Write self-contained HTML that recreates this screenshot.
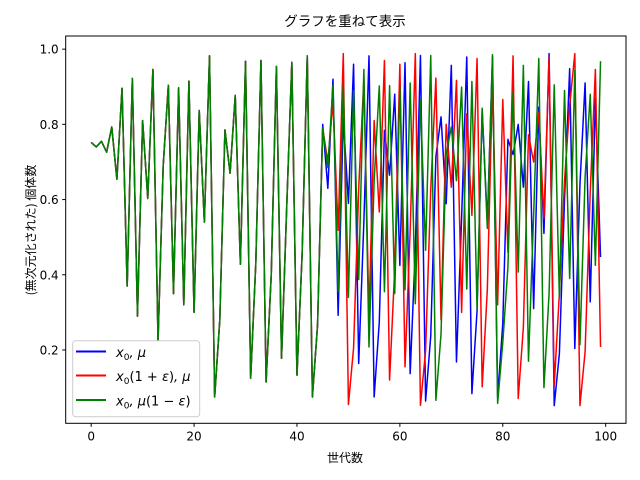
<!DOCTYPE html>
<html><head><meta charset="utf-8"><style>
body{margin:0;background:#fff;}
svg{display:block;font-family:"DejaVu Sans","Noto Sans CJK JP",sans-serif;}
</style></head><body>
<svg id="chart" width="640" height="480" viewBox="0 0 640 480">
<text x="345" y="26" font-size="13.5" text-anchor="middle" font-family="'Noto Sans CJK JP',sans-serif">グラフを重ねて表示</text>
<g id="plot"></g>
<text x="345" y="462" font-size="12" text-anchor="middle" font-family="'Noto Sans CJK JP',sans-serif">世代数</text>
<text transform="translate(35,230) rotate(-90)" font-size="12" text-anchor="middle" font-family="'Noto Sans CJK JP',sans-serif">(無次元化された) 個体数</text>
<g>
<rect x="72.7" y="340.7" width="127" height="76" rx="3" fill="#fff" fill-opacity="0.8" stroke="#ccc"/>
<line x1="76" y1="351.5" x2="106" y2="351.5" stroke="blue" stroke-width="2"/>
<text x="116" y="357" font-size="13" font-style="italic">x<tspan font-size="9" dy="3" font-style="normal">0</tspan><tspan dy="-3">, μ</tspan></text>
<line x1="76" y1="375.5" x2="106" y2="375.5" stroke="red" stroke-width="2"/>
<text x="116" y="381" font-size="13" font-style="italic">x<tspan font-size="9" dy="3" font-style="normal">0</tspan><tspan dy="-3"><tspan font-style="normal">(1 + </tspan>ε<tspan font-style="normal">)</tspan>, μ</tspan></text>
<line x1="76" y1="400" x2="106" y2="400" stroke="green" stroke-width="2"/>
<text x="116" y="405.5" font-size="13" font-style="italic">x<tspan font-size="9" dy="3" font-style="normal">0</tspan><tspan dy="-3">, μ<tspan font-style="normal">(1 − </tspan>ε<tspan font-style="normal">)</tspan></tspan></text>
</g>
</svg>
<script>
const common = [0.752,0.74,0.755,0.726,0.793,0.654,0.896,0.37,0.922,0.29,0.81,0.603,0.946,0.225,0.69,0.904,0.35,0.897,0.32,0.915,0.30,0.837,0.54,0.982,0.075,0.28,0.785,0.67,0.877,0.428,0.968,0.125,0.432,0.97,0.115,0.40,0.954,0.178,0.578,0.965,0.133,0.455,0.982,0.075,0.266];
const blueTail = [0.80,0.63,0.92,0.292,0.817,0.59,0.96,0.164,0.54,0.982,0.075,0.274,0.784,0.665,0.88,0.425,0.964,0.137,0.467,0.983,0.064,0.237,0.714,0.82,0.589,0.957,0.168,0.552,0.979,0.084,0.304,0.836,0.54,0.98,0.075,0.27,0.76,0.72,0.80,0.633,0.914,0.31,0.846,0.51,0.988,0.052,0.19,0.6,0.948,0.204,0.64,0.91,0.328,0.87,0.447];
const redTail = [0.79,0.70,0.86,0.518,0.988,0.055,0.205,0.63,0.92,0.29,0.81,0.567,0.97,0.12,0.417,0.96,0.155,0.517,0.988,0.053,0.198,0.627,0.923,0.28,0.80,0.633,0.917,0.30,0.828,0.558,0.975,0.102,0.362,0.912,0.32,0.866,0.46,0.982,0.071,0.26,0.772,0.70,0.832,0.55,0.979,0.106,0.35,0.65,0.85,0.988,0.052,0.195,0.62,0.946,0.208];
const greenTail = [0.79,0.685,0.904,0.355,0.905,0.34,0.89,0.387,0.946,0.208,0.65,0.902,0.355,0.903,0.35,0.899,0.36,0.91,0.323,0.864,0.465,0.983,0.066,0.243,0.72,0.793,0.65,0.899,0.362,0.914,0.31,0.843,0.523,0.985,0.058,0.22,0.42,0.886,0.407,0.957,0.17,0.56,0.975,0.10,0.35,0.905,0.34,0.89,0.39,0.944,0.214,0.66,0.88,0.425,0.968];
const xTicks = [0,20,40,60,80,100];
const yTicks = [0.2,0.4,0.6,0.8,1.0];
const seriesBlue = common.concat(blueTail);
const seriesRed = common.concat(redTail);
const seriesGreen = common.concat(greenTail);

const L=65.7,R=626,T=36,B=423.3;
const xMin=-4.95,xMax=103.95,yMin=0.005,yMax=1.035;
const sx=v=>L+(v-xMin)/(xMax-xMin)*(R-L);
const sy=v=>B-(v-yMin)/(yMax-yMin)*(B-T);
const NS='http://www.w3.org/2000/svg';
const g=document.getElementById('plot');
function mk(tag,attrs){const e=document.createElementNS(NS,tag);for(const k in attrs)e.setAttribute(k,attrs[k]);return e;}
function add(series,color,name){
  const pts=series.map((v,i)=>sx(i).toFixed(2)+','+sy(v).toFixed(2)).join(' ');
  const p=mk('polyline',{points:pts,fill:'none',stroke:color,'stroke-width':1.5,'stroke-linejoin':'round'});
  
  
  g.appendChild(p);
}
add(seriesBlue,'blue','series-x0-mu');
add(seriesRed,'red','series-x0-eps-mu');
add(seriesGreen,'green','series-x0-mu-eps');
const frame=mk('rect',{x:L,y:T,width:R-L,height:B-T,fill:'none',stroke:'#000','stroke-width':1});


g.appendChild(frame);
xTicks.forEach(t=>{
  const x=sx(t);
  const l=mk('line',{x1:x,y1:B,x2:x,y2:B+3.5,stroke:'#000'});
  
  
  g.appendChild(l);
  const tx=mk('text',{x:x,y:B+17,'font-size':12,'text-anchor':'middle'});
  tx.textContent=t;
  
  
  g.appendChild(tx);
});
yTicks.forEach(t=>{
  const y=sy(t);
  const l=mk('line',{x1:L-3.5,y1:y,x2:L,y2:y,stroke:'#000'});
  
  
  g.appendChild(l);
  const tx=mk('text',{x:L-7,y:y+4.5,'font-size':12,'text-anchor':'end'});
  tx.textContent=t.toFixed(1);
  
  
  g.appendChild(tx);
});
</script>
</body></html>
